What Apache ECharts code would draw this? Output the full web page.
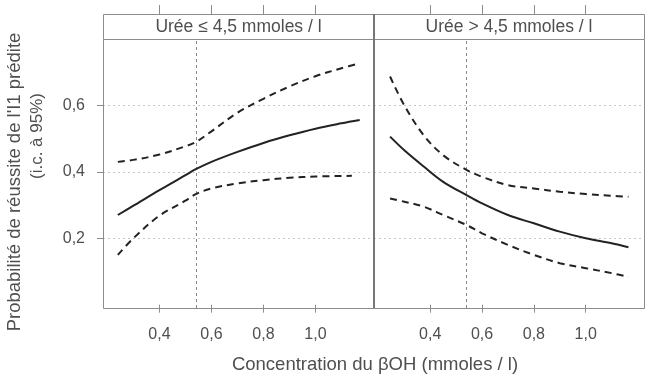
<!DOCTYPE html>
<html>
<head>
<meta charset="utf-8">
<script src="https://cdn.jsdelivr.net/npm/echarts@6/dist/echarts.min.js"></script>
<style>html,body{margin:0;padding:0;background:#fff;}#c{width:646px;height:378px;}</style>
</head>
<body>
<div id="c"></div>
<script>
// ---- data ----
const xTicks = [0.4, 0.6, 0.8, 1.0];
const yTicks = [0.2, 0.4, 0.6];
const refX = 0.54;
const panelTitles = ['Urée ≤ 4,5 mmoles / l', 'Urée > 4,5 mmoles / l'];

const leftX      = [0.24, 0.3, 0.4, 0.5, 0.54, 0.6, 0.7, 0.8, 0.9, 1.0, 1.1, 1.17];
const leftFit    = [0.27, 0.298, 0.345, 0.39, 0.408, 0.43, 0.46, 0.487, 0.51, 0.53, 0.546, 0.556];
const leftUpper  = [0.43, 0.436, 0.452, 0.477, 0.49, 0.522, 0.578, 0.62, 0.657, 0.688, 0.712, 0.727];
const leftLowerX = [0.24, 0.3, 0.4, 0.5, 0.54, 0.6, 0.7, 0.8, 0.9, 1.0, 1.14];
const leftLower  = [0.15, 0.2, 0.268, 0.313, 0.333, 0.35, 0.365, 0.375, 0.382, 0.386, 0.388];

const rightX     = [0.245, 0.3, 0.375, 0.45, 0.54, 0.6, 0.7, 0.8, 0.9, 1.0, 1.1, 1.165];
const rightFit   = [0.506, 0.465, 0.416, 0.37, 0.33, 0.305, 0.27, 0.245, 0.22, 0.2, 0.185, 0.173];
const rightUpper = [0.687, 0.6, 0.51, 0.45, 0.406, 0.385, 0.36, 0.35, 0.34, 0.333, 0.328, 0.325];
const rightLower = [0.32, 0.31, 0.295, 0.27, 0.24, 0.215, 0.18, 0.15, 0.125, 0.11, 0.095, 0.084];

// ---- layout ----
const FONT = 'Liberation Sans, Arial, sans-serif';
const TXT = '#4f4f4f';
const FRAME = '#8c8c8c';
const P = [{left: 103, width: 271}, {left: 374, width: 270}];
const TOP = 39, H = 269, STRIP = 25;

const pairs = (xs, ys) => xs.map((x, i) => [x, ys[i]]);
const fmt = v => v.toFixed(1).replace('.', ',');

const chart = echarts.init(document.getElementById('c'), null, {renderer: 'canvas'});

const grids = P.map(p => ({left: p.left, top: TOP, width: p.width, height: H, containLabel: false}));
const xAxes = [], yAxes = [];
P.forEach((p, i) => {
  xAxes.push({
    type: 'value', gridIndex: i, min: 0.183, max: 1.225, position: 'bottom',
    axisLine: {show: false}, splitLine: {show: false},
    axisTick: {show: true, customValues: xTicks, length: 8, lineStyle: {color: FRAME, width: 1}},
    axisLabel: {show: true, customValues: xTicks, formatter: fmt, margin: 19, color: TXT, fontSize: 16, fontFamily: FONT}
  });
  xAxes.push({
    type: 'value', gridIndex: i, min: 0.183, max: 1.225, position: 'top', offset: STRIP,
    axisLine: {show: false}, splitLine: {show: false},
    axisTick: {show: true, customValues: xTicks, length: 9, lineStyle: {color: FRAME, width: 1}},
    axisLabel: {show: false}
  });
  yAxes.push({
    type: 'value', gridIndex: i, min: -0.01, max: 0.8,
    axisLine: {show: false}, splitLine: {show: false},
    axisTick: {show: i === 0, customValues: yTicks, length: 6, lineStyle: {color: FRAME, width: 1}},
    axisLabel: {show: i === 0, customValues: yTicks, formatter: fmt, margin: 18, color: TXT, fontSize: 16, fontFamily: FONT}
  });
});

const solid = {color: '#222', width: 2, type: 'solid'};
const dashed = {color: '#222', width: 2, type: [7, 5]};

function mk(name, data, gi, style, extra) {
  return Object.assign({
    name, type: 'line', data, xAxisIndex: gi * 2, yAxisIndex: gi,
    showSymbol: false, symbol: 'none', smooth: 0.35, silent: true,
    lineStyle: style, z: 5
  }, extra || {});
}
function refMarks() {
  return {
    markLine: {
      silent: true, symbol: 'none', label: {show: false}, animation: false,
      data: [
        ...yTicks.map(v => ({yAxis: v, lineStyle: {color: '#c8c8c8', type: [2, 3], width: 1}})),
        {xAxis: refX, lineStyle: {color: '#888', type: [3, 3], width: 1}}
      ]
    }
  };
}

const series = [
  mk('leftFit', pairs(leftX, leftFit), 0, solid, refMarks()),
  mk('leftUpper', pairs(leftX, leftUpper), 0, dashed),
  mk('leftLower', pairs(leftLowerX, leftLower), 0, dashed),
  mk('rightFit', pairs(rightX, rightFit), 1, solid, refMarks()),
  mk('rightUpper', pairs(rightX, rightUpper), 1, dashed),
  mk('rightLower', pairs(rightX, rightLower), 1, dashed)
];

const graphic = [];
P.forEach((p, i) => {
  graphic.push({type: 'rect', shape: {x: p.left + 0.5, y: TOP + 0.5, width: p.width, height: H},
    style: {fill: 'none', stroke: FRAME, lineWidth: 1}, z: 10, silent: true});
  graphic.push({type: 'rect', shape: {x: p.left + 0.5, y: TOP - STRIP + 0.5, width: p.width, height: STRIP},
    style: {fill: '#fff', stroke: FRAME, lineWidth: 1}, z: 10, silent: true});
  graphic.push({type: 'text', x: p.left + p.width / 2, y: TOP - STRIP / 2 + 1,
    style: {text: panelTitles[i], fill: TXT, font: '17.5px ' + FONT, textAlign: 'center', textVerticalAlign: 'middle'}, z: 11, silent: true});
});
graphic.push({type: 'line', shape: {x1: 374, y1: TOP - STRIP, x2: 374, y2: TOP + H},
  style: {stroke: '#777', lineWidth: 2}, z: 12, silent: true});
graphic.push({type: 'text', x: 15, y: 182, rotation: Math.PI / 2,
  style: {text: "Probabilité de réussite de l'I1 prédite", fill: TXT, font: '18.5px ' + FONT, textAlign: 'center', textVerticalAlign: 'middle'}, silent: true});
graphic.push({type: 'text', x: 37, y: 136, rotation: Math.PI / 2,
  style: {text: '(i.c. à 95%)', fill: TXT, font: '17px ' + FONT, textAlign: 'center', textVerticalAlign: 'middle'}, silent: true});
graphic.push({type: 'text', x: 375, y: 365,
  style: {text: 'Concentration du βOH (mmoles / l)', fill: TXT, font: '18.5px ' + FONT, textAlign: 'center', textVerticalAlign: 'middle'}, silent: true});

chart.setOption({
  animation: false,
  backgroundColor: '#fff',
  grid: grids, xAxis: xAxes, yAxis: yAxes, series, graphic
});
</script>
</body>
</html>
